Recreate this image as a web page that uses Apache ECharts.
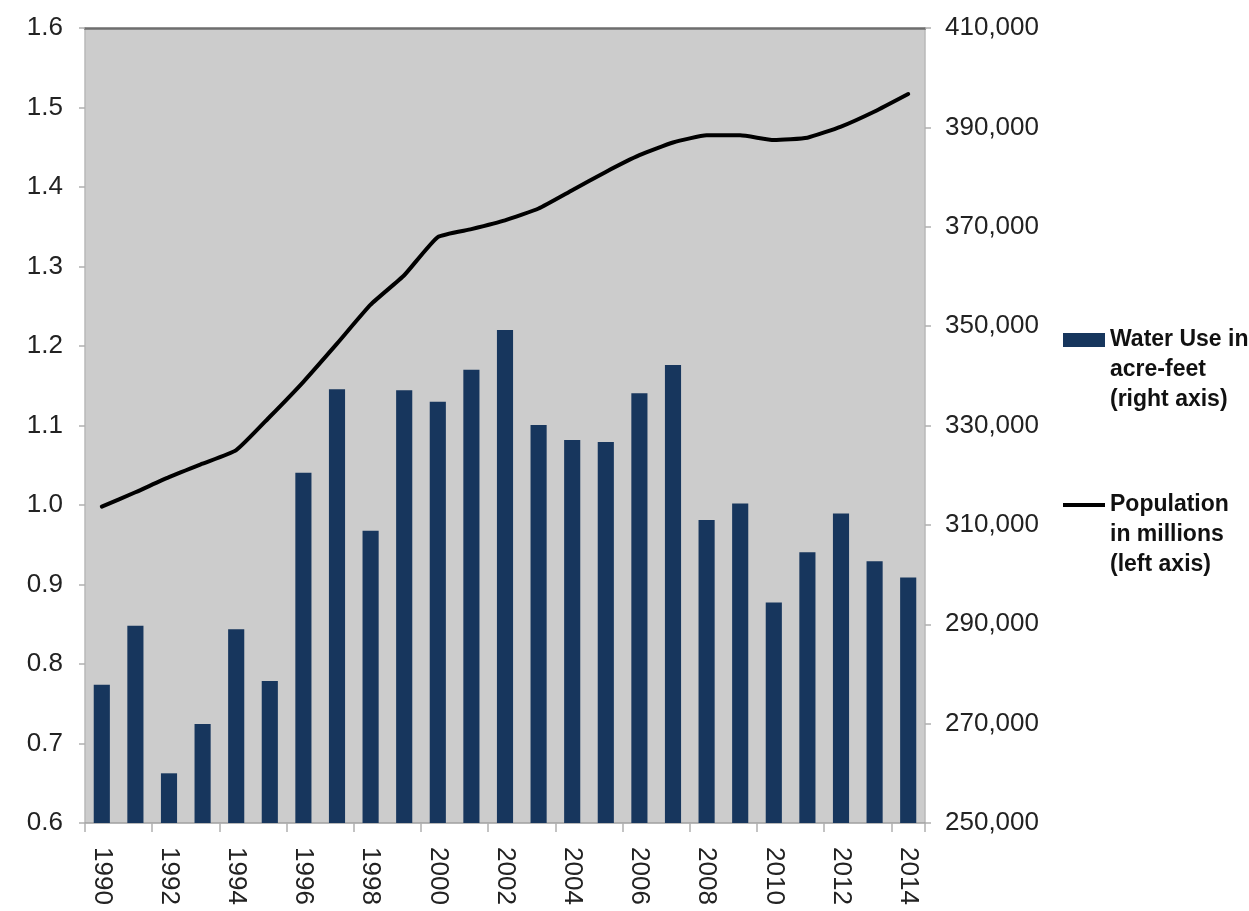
<!DOCTYPE html>
<html>
<head>
<meta charset="utf-8">
<title>Water Use and Population</title>
<script src="https://cdn.jsdelivr.net/npm/echarts@6/dist/echarts.min.js"></script>
<style>
  html, body { margin: 0; padding: 0; background: #ffffff; }
  #chart { width: 1249px; height: 911px; }
</style>
</head>
<body>
<div id="chart"></div>
<script>
// Years on the category axis
const years = ['1990','1991','1992','1993','1994','1995','1996','1997','1998','1999',
               '2000','2001','2002','2003','2004','2005','2006','2007','2008','2009',
               '2010','2011','2012','2013','2014'];

// Annual water use, acre-feet (right axis)
const waterUse = [277800, 289700, 260000, 269900, 289000, 278600, 320500, 337300, 308800, 337100,
                  334800, 341200, 349200, 330100, 327100, 326700, 336500, 342200, 311000, 314300,
                  294400, 304500, 312300, 302700, 299400];

// Population, millions (left axis)
const population = [0.998, 1.016, 1.035, 1.052, 1.069, 1.111, 1.155, 1.203, 1.252, 1.289,
                    1.337, 1.347, 1.358, 1.373, 1.396, 1.419, 1.440, 1.456, 1.465, 1.465,
                    1.459, 1.462, 1.476, 1.495, 1.517];

const waterName = 'Water Use in\nacre-feet\n(right axis)';
const popName = 'Population\nin millions\n(left axis)';

const FONT = '"Liberation Sans", Arial, sans-serif';
const labelStyle = { fontFamily: FONT, fontSize: 26, color: '#222222' };
const legendText = {
  fontFamily: FONT, fontSize: 23, fontWeight: 'bold', color: '#111111', lineHeight: 30
};
// two empty lines above the name keep the key beside the first line of text
const keyOnFirstLine = name => '\n\n' + name;

const chart = echarts.init(document.getElementById('chart'), null, { renderer: 'canvas' });

chart.setOption({
  animation: false,
  backgroundColor: '#ffffff',
  grid: {
    left: 85, right: 324, top: 28, bottom: 88,
    show: true, backgroundColor: '#cccccc', borderWidth: 0
  },
  legend: [
    {
      data: [waterName], left: 1063, top: 265, orient: 'vertical',
      itemWidth: 42, itemHeight: 14, itemGap: 0, padding: 0,
      textStyle: legendText, icon: 'rect', formatter: keyOnFirstLine
    },
    {
      data: [popName], left: 1063, top: 430, orient: 'vertical',
      itemWidth: 42, itemHeight: 4, itemGap: 0, padding: 0,
      textStyle: legendText, icon: 'rect', formatter: keyOnFirstLine
    }
  ],
  xAxis: [
    {
      type: 'category', data: years, position: 'bottom',
      boundaryGap: true,
      axisLine: { show: true, lineStyle: { color: '#a0a0a0', width: 1.5 } },
      axisTick: { show: true, interval: 1, length: 9, lineStyle: { color: '#b0b0b0', width: 1.5 } },
      axisLabel: Object.assign({ interval: 1, rotate: -90, margin: 24 }, labelStyle),
      splitLine: { show: false }
    },
    {
      // top frame line of the plot area
      type: 'category', data: years, position: 'top',
      axisLine: { show: true, lineStyle: { color: '#6e6e6e', width: 2.5 } },
      axisTick: { show: false }, axisLabel: { show: false }, splitLine: { show: false }
    }
  ],
  yAxis: [
    {
      type: 'value', position: 'left',
      min: 0.6, max: 1.6, interval: 0.1,
      axisLine: { show: true, lineStyle: { color: '#b8b8b8', width: 1.5 } },
      axisTick: { show: true, length: 6, lineStyle: { color: '#b0b0b0', width: 1.5 } },
      axisLabel: Object.assign({ margin: 22, formatter: v => v.toFixed(1) }, labelStyle),
      splitLine: { show: false }
    },
    {
      type: 'value', position: 'right',
      min: 250000, max: 410000, interval: 20000,
      axisLine: { show: true, lineStyle: { color: '#b8b8b8', width: 1.5 } },
      axisTick: { show: true, length: 6, lineStyle: { color: '#b0b0b0', width: 1.5 } },
      axisLabel: Object.assign({ margin: 20, formatter: v => v.toLocaleString('en-US') }, labelStyle),
      splitLine: { show: false }
    }
  ],
  series: [
    {
      name: waterName, type: 'bar', xAxisIndex: 0, yAxisIndex: 1,
      data: waterUse, barWidth: '48%',
      itemStyle: { color: '#17365d' }
    },
    {
      name: popName, type: 'line', xAxisIndex: 0, yAxisIndex: 0,
      data: population, symbol: 'none', smooth: 0.15,
      lineStyle: { color: '#000000', width: 4, cap: 'round', join: 'round' },
      itemStyle: { color: '#000000' }
    }
  ]
});
</script>
</body>
</html>
